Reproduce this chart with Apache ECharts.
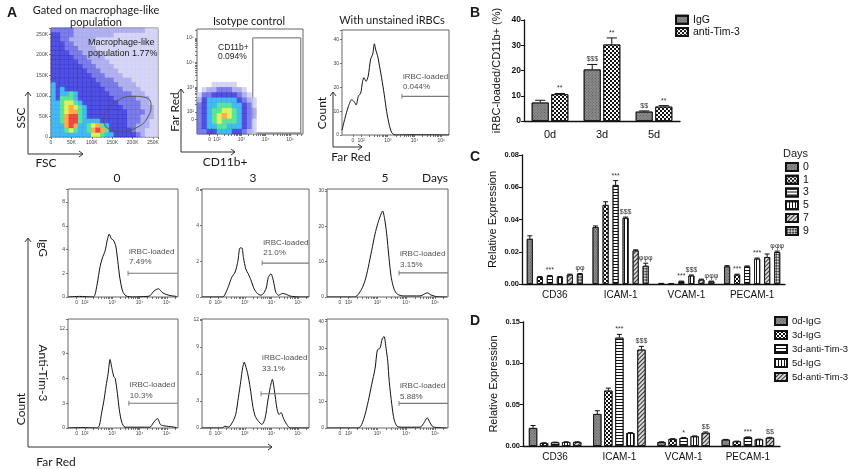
<!DOCTYPE html>
<html>
<head>
<meta charset="utf-8">
</head>
<body style="margin: 0">
<div id="container" style="width: 856px; height: 469px"></div>
<script src="https://cdn.jsdelivr.net/npm/echarts@6/dist/echarts.min.js"></script>
<script>
// ---------- panel A data ----------
// density levels 0-9, top row first
var fscSscLevels = [
  "333332222222222222222111",
  "443332222222221111111111",
  "443322222211111111111111",
  "444332222111111111111111",
  "444333222211111111111111",
  "444433322221111111111111",
  "444443332222111111111111",
  "444444333222211111111111",
  "444444433322221111111111",
  "444444443332222111111111",
  "444444444333222211111111",
  "444444444433332222111111",
  "544444444443333222211111",
  "545444444444333322221111",
  "545565444444433333222111",
  "546665444444443333322211",
  "556776544444444333332211",
  "556787654444444433332221",
  "556788654444444443333221",
  "556899654444444443332221",
  "556899655554444443332211",
  "555898556786544443322211",
  "555676556898644444322111",
  "555555555776554444432111"
];
var isoLevels = [
  "000111110000",
  "012233322100",
  "133444443210",
  "245555554321",
  "345566655431",
  "345667765432",
  "345678765432",
  "345676665431",
  "345566555431",
  "334455544321"
];
var densityColors = ['', '#cbcbf4', '#9d9dec', '#5c5ce4', '#2626d8', '#1aa6f0', '#36dc86', '#d6ee36', '#ff9a22', '#ec1c1c'];

// macrophage gate (FSC K, SSC K) and CD11b+ gate (log units)
var fscGate = [[128, 40], [138, 66], [162, 88], [200, 99], [232, 96], [245, 78], [238, 50], [212, 24], [170, 14], [138, 22], [128, 40]];
var isoGate = [[3.47, 1.15], [5.44, 5.0]];

var flowTickPos = [1.7, 2, 3, 4, 5];
var flowTickLabels = ['0', '10²', '10³', '10⁴', '10⁵'];

// histograms: [Far Red (log units), count]
var unstained = [[1.29, 2], [1.40, 7], [1.53, 12], [1.65, 14.8], [1.74, 14], [1.82, 12.6], [1.90, 16.2], [1.99, 17.6], [2.06, 22.5], [2.11, 24], [2.19, 22.5], [2.27, 24.7], [2.36, 31.8], [2.44, 33.9], [2.50, 38.2], [2.56, 35.3], [2.62, 33.2], [2.68, 29.7], [2.77, 24], [2.87, 16.9], [2.96, 9.8], [3.06, 4.1], [3.15, 1], [3.27, 0], [4.0, 0.1], [5.29, 0]];
var day0IgG = [[1.38, 0], [1.8, 0.05], [2.3, 0], [2.37, 0.2], [2.45, 1.1], [2.55, 2.5], [2.64, 3.3], [2.74, 3.9], [2.82, 4.8], [2.89, 5.3], [2.97, 4.9], [3.04, 4.8], [3.13, 4.3], [3.20, 3.1], [3.28, 1.6], [3.38, 0.5], [3.50, 0.1], [3.76, 0], [4.27, 0.05], [4.38, 0.1], [4.53, 0.5], [4.69, 0.7], [4.85, 0.35], [5.0, 0.2], [5.18, 0.1], [5.36, 0.05]];
var day0Anti = [[1.38, 0], [1.9, 0.05], [2.43, 0], [2.53, 0.3], [2.61, 1.8], [2.70, 3.4], [2.77, 5], [2.85, 6.6], [2.92, 8.3], [2.99, 7.2], [3.06, 6.2], [3.11, 6.0], [3.19, 4.2], [3.26, 2.2], [3.35, 0.7], [3.47, 0.1], [4.38, 0.1], [4.50, 0.6], [4.66, 1.15], [4.77, 0.4], [4.93, 0.25], [5.18, 0.15], [5.36, 0.05]];
var day3IgG = [[1.4, 0], [2.18, 0], [2.26, 0.15], [2.39, 0.6], [2.51, 1.1], [2.64, 1.4], [2.74, 2.0], [2.82, 2.75], [2.89, 2.75], [2.95, 2.2], [3.04, 1.55], [3.13, 1.3], [3.24, 0.9], [3.35, 0.45], [3.47, 0.2], [3.60, 0.1], [3.70, 0.2], [3.80, 0.5], [3.88, 1.1], [3.98, 1.3], [4.07, 0.9], [4.16, 0.25], [4.26, 0.1], [4.42, 0.2], [4.55, 0.15], [4.70, 0.05], [5.07, 0], [5.4, 0]];
var day3Anti = [[1.4, 0], [2.14, 0], [2.26, 0.2], [2.39, 0.1], [2.55, 0.7], [2.66, 1.5], [2.76, 3.4], [2.85, 5.2], [2.92, 6.7], [2.98, 7.3], [3.05, 6.7], [3.11, 6.0], [3.20, 4.5], [3.30, 2.4], [3.39, 1.3], [3.51, 0.75], [3.64, 0.4], [3.76, 1.1], [3.86, 3.0], [3.95, 4.5], [4.03, 5.4], [4.11, 4.1], [4.20, 2.2], [4.28, 1.5], [4.36, 1.7], [4.44, 1.1], [4.57, 0.4], [4.70, 0], [5.4, 0]];
var day5IgG = [[1.25, 0], [2.22, 0], [2.34, 0.8], [2.45, 2.2], [2.57, 4.6], [2.68, 8.3], [2.80, 13.1], [2.92, 17.9], [3.01, 20.7], [3.11, 23.1], [3.18, 24.3], [3.25, 22.1], [3.32, 17.9], [3.40, 11.2], [3.48, 5.5], [3.58, 2.2], [3.69, 0.8], [3.90, 0.3], [4.48, 0.3], [4.62, 0.8], [4.73, 1.2], [4.85, 0.6], [5.06, 0.1], [5.41, 0]];
var day5Anti = [[1.25, 0], [2.34, 0], [2.45, 1.2], [2.57, 5], [2.68, 10], [2.80, 16.3], [2.92, 22.5], [3.00, 29.4], [3.09, 30], [3.17, 33.7], [3.23, 34.4], [3.30, 30], [3.36, 25], [3.41, 17.5], [3.50, 8.8], [3.58, 3.1], [3.69, 0.6], [3.90, 0.3], [4.48, 0.3], [4.59, 1.5], [4.73, 3.8], [4.83, 1.9], [4.94, 0.4], [5.41, 0]];

var gateStart = [3.53, 3.58, 3.61, 3.65, 3.61, 3.75, 3.75];
var gateLevel = [16.2, 2, 3, 1.9, 3.8, 6.8, 9.25];
var gatePct = ['0.044%', '7.49%', '10.3%', '21.0%', '33.1%', '3.15%', '5.88%'];

// ---------- panel B ----------
var bDays = ['0d', '3d', '5d'];
var bIgG = [7.3, 20.4, 3.7];
var bIgGErr = [0.9, 2.0, 0.3];
var bIgGMarks = ['', '$$$', '$$'];
var bAnti = [10.6, 30.3, 5.7];
var bAntiErr = [0.3, 2.6, 0.4];
var bAntiMarks = ['**', '**', '**'];

// ---------- panels C and D ----------
var genes = ['CD36', 'ICAM-1', 'VCAM-1', 'PECAM-1'];
var cDays = ['0', '1', '3', '5', '7', '9'];
var cValues = [
  [0.028, 0.0353, 0.0006, 0.0109],
  [0.0043, 0.049, 0.0004, 0.0058],
  [0.005, 0.0614, 0.0016, 0.0109],
  [0.0043, 0.041, 0.0052, 0.0157],
  [0.0058, 0.0208, 0.0027, 0.0167],
  [0.0062, 0.0113, 0.0016, 0.0198]
];
var cErrors = [
  [0.0019, 0.0007, 0, 0.0005],
  [0.0003, 0.002, 0, 0.0003],
  [0.0003, 0.0027, 0.0002, 0.0003],
  [0.0003, 0.0005, 0.0004, 0.0004],
  [0.0003, 0.0004, 0.0003, 0.0019],
  [0.0003, 0.0016, 0.0002, 0.0006]
];
var cMarks = [
  ['', '', '', ''],
  ['', '', '', '***'],
  ['***', '***', '***', ''],
  ['', '$$$', '$$$', '***'],
  ['', '', '', ''],
  ['φφ', 'φφφ', 'φφφ', 'φφφ']
];
var dGroups = ['0d-IgG', '3d-IgG', '3d-anti-Tim-3', '5d-IgG', '5d-anti-Tim-3'];
var dValues = [
  [0.0218, 0.0387, 0.0048, 0.0077],
  [0.0036, 0.067, 0.0085, 0.0056],
  [0.0044, 0.131, 0.0097, 0.0105],
  [0.0048, 0.0157, 0.0117, 0.008],
  [0.0048, 0.1165, 0.016, 0.01]
];
var dErrors = [
  [0.003, 0.004, 0.0003, 0.0003],
  [0.0003, 0.003, 0.0004, 0.0003],
  [0.0003, 0.004, 0.0005, 0.0005],
  [0.0003, 0.0005, 0.0005, 0.0003],
  [0.0003, 0.004, 0.001, 0.0005]
];
var dMarks = [
  ['', '', '', ''],
  ['', '', '', ''],
  ['', '***', '*', '***'],
  ['', '', '', ''],
  ['', '$$$', '$$', '$$']
];

// ---------- layout & styles ----------
var font = 'Liberation Sans';
var chart = echarts.init(document.getElementById('container'));
var grids = [], xAxes = [], yAxes = [], series = [];

var patterns = {
  gray: { color: '#8e8e8e', decal: { symbol: 'rect', dashArrayX: [1, 1], dashArrayY: [1, 1], rotation: Math.PI / 4, color: '#5a5a5a' } },
  checker: { color: '#fff', decal: { symbol: 'rect', dashArrayX: [[2, 2], [0, 2, 2, 0]], dashArrayY: [2, 0], color: '#111' } },
  hstripe: { color: '#fff', decal: { symbol: 'rect', dashArrayX: [1, 0], dashArrayY: [1, 2], color: '#111' } },
  vstripe: { color: '#fff', decal: { symbol: 'rect', dashArrayX: [1, 2], dashArrayY: [1, 0], color: '#111' } },
  diag: { color: '#d8d8d8', decal: { symbol: 'rect', dashArrayX: [1, 0], dashArrayY: [1, 2], rotation: -Math.PI / 4, color: '#333' } },
  cross: { color: '#cfcfcf', decal: { symbol: 'rect', dashArrayX: [[2, 2], [0, 2, 2, 0]], dashArrayY: [2, 0], rotation: Math.PI / 4, color: '#444' } }
};

function addGrid(box, framed) {
  grids.push({
    left: box[0], top: box[1], width: box[2], height: box[3],
    show: !!framed, borderColor: '#666', borderWidth: 1, backgroundColor: 'rgba(0,0,0,0)',
    outerBoundsMode: 'none'
  });
  return grids.length - 1;
}

function flowTicks(lo, hi) {
  var t = [];
  for (var d = 2; d <= 5; d++) {
    for (var k = 1; k <= 9; k++) {
      var v = d + Math.log10(k);
      if (v >= lo && v <= hi) t.push(v);
    }
  }
  t.push(1.7);
  return t;
}

function flowAxis(gi, lo, hi) {
  return {
    gridIndex: gi, type: 'value', min: lo, max: hi,
    axisLine: { show: false }, splitLine: { show: false },
    axisTick: { show: true, customValues: flowTicks(lo, hi), length: 2, lineStyle: { color: '#555', width: 0.8 } },
    axisLabel: {
      customValues: flowTickPos, fontSize: 5, color: '#444', margin: 3, fontFamily: font,
      formatter: function (v) {
        for (var i = 0; i < flowTickPos.length; i++) if (Math.abs(flowTickPos[i] - v) < 1e-6) return flowTickLabels[i];
        return '';
      }
    }
  };
}

function countAxis(gi, max, step) {
  return {
    gridIndex: gi, type: 'value', min: 0, max: max, interval: step,
    axisLine: { show: false }, splitLine: { show: false },
    axisTick: { show: true, length: 2, lineStyle: { color: '#555', width: 0.8 } },
    axisLabel: {
      fontSize: 5, color: '#444', margin: 3, fontFamily: font,
      formatter: function (v) { return Math.abs(v / step - Math.round(v / step)) < 1e-6 ? String(v) : ''; }
    }
  };
}

function kAxis(gi, max) {
  return {
    gridIndex: gi, type: 'value', min: 0, max: max, interval: 50000,
    axisLine: { show: false }, splitLine: { show: false },
    axisTick: { show: true, length: 2, lineStyle: { color: '#555', width: 0.8 } },
    minorTick: { show: true, splitNumber: 5, length: 1, lineStyle: { color: '#777', width: 0.6 } },
    axisLabel: {
      fontSize: 5, color: '#444', margin: 3, fontFamily: font,
      formatter: function (v) { return v % 50000 ? '' : (v === 0 ? '0' : v / 1000 + 'K'); }
    }
  };
}

function densityData(levels, x0, yTop, cw, ch) {
  var out = [];
  levels.forEach(function (row, r) {
    for (var c = 0; c < row.length; c++) {
      var lv = +row[c];
      if (lv > 0) out.push([x0 + (c + 0.5) * cw, yTop - (r + 0.5) * ch, lv]);
    }
  });
  out.sort(function (a, b) { return a[2] - b[2]; });
  return out;
}

function densitySeries(gi, data, size) {
  return {
    type: 'scatter', xAxisIndex: gi, yAxisIndex: gi, data: data, symbol: 'rect', symbolSize: size,
    silent: true, itemStyle: { color: function (p) { return densityColors[p.value[2]]; } }
  };
}

// plot 1: FSC / SSC
var g1 = addGrid([51, 28, 107, 109], true);
xAxes.push(kAxis(g1, 262000));
yAxes.push(kAxis(g1, 265000));
series.push(densitySeries(g1, densityData(fscSscLevels, 0, 265000, 262000 / 24, 265000 / 24), [4.9, 5]));
series.push({
  type: 'line', xAxisIndex: g1, yAxisIndex: g1, symbol: 'none', smooth: 0.5, silent: true,
  data: fscGate.map(function (p) { return [p[0] * 1000, p[1] * 1000]; }),
  lineStyle: { color: '#555', width: 1 }
});

// plot 2: isotype control
var g2 = addGrid([197, 29, 106, 105], true);
xAxes.push(flowAxis(g2, 1.18, 5.53));
yAxes.push(flowAxis(g2, 1.11, 5.36));
var isoSeries = densitySeries(g2, densityData(isoLevels, 1.18, 3.21, 0.2033, 0.21), [5.4, 5.6]);
isoSeries.markArea = {
  silent: true,
  itemStyle: { color: 'rgba(0,0,0,0)', borderColor: '#666', borderWidth: 1 },
  data: [[{ coord: isoGate[0] }, { coord: isoGate[1] }]]
};
series.push(isoSeries);

// histograms
var histLayout = [
  { data: unstained, box: [342, 30, 107, 105], x: [1.29, 5.29], yMax: 44, step: 10, gap: 1.5 },
  { data: day0IgG, box: [68, 189, 110, 108], x: [1.38, 5.41], yMax: 9.1, step: 2, gap: 3.5 },
  { data: day0Anti, box: [68, 319, 110, 109], x: [1.38, 5.41], yMax: 13.2, step: 3, gap: 0 },
  { data: day3IgG, box: [202, 189, 107, 108], x: [1.4, 5.4], yMax: 6.05, step: 2, gap: 2.5 },
  { data: day3Anti, box: [202, 319, 107, 109], x: [1.4, 5.4], yMax: 12.1, step: 3, gap: 17.5 },
  { data: day5IgG, box: [327, 189, 121, 108], x: [1.25, 5.45], yMax: 30.5, step: 10, gap: 0.5 },
  { data: day5Anti, box: [327, 319, 121, 109], x: [1.25, 5.45], yMax: 41, step: 10, gap: -1 }
];
histLayout.forEach(function (h, i) {
  var gi = addGrid(h.box, true);
  xAxes.push(flowAxis(gi, h.x[0], h.x[1]));
  yAxes.push(countAxis(gi, h.yMax, h.step));
  series.push({
    type: 'line', xAxisIndex: gi, yAxisIndex: gi, data: h.data, symbol: 'none', smooth: 0.25,
    silent: true, lineStyle: { color: '#111', width: 1 }
  });
  series.push({
    type: 'line', xAxisIndex: gi, yAxisIndex: gi, symbol: 'none', silent: true,
    data: [[gateStart[i], gateLevel[i]], [h.x[1], gateLevel[i]]],
    lineStyle: { color: '#7a7a7a', width: 1.2 }
  });
  series.push({
    type: 'scatter', xAxisIndex: gi, yAxisIndex: gi, symbol: 'rect', symbolSize: [1.2, 5], silent: true,
    itemStyle: { color: '#7a7a7a' },
    data: [[gateStart[i], gateLevel[i]]],
    label: {
      show: true, position: 'top', distance: h.gap, align: 'left', offset: [1, 0],
      formatter: 'iRBC-loaded\n' + gatePct[i], fontSize: 8, lineHeight: 10.5, color: '#222', fontFamily: font
    }
  });
});

// ---------- bar panels ----------
function catAxis(gi, cats, fs, margin) {
  return {
    gridIndex: gi, type: 'category', data: cats,
    axisLine: { lineStyle: { color: '#111', width: 1.3 } },
    axisTick: { alignWithLabel: true, length: 3, lineStyle: { color: '#111' } },
    axisLabel: { fontSize: fs, color: '#111', margin: margin, fontFamily: font },
    splitLine: { show: false }
  };
}
function valAxis(gi, max, step, digits, fs, name, nameGap) {
  return {
    gridIndex: gi, type: 'value', min: 0, max: max, interval: step,
    axisLine: { show: true, lineStyle: { color: '#111', width: 1.3 } },
    axisTick: { show: true, length: 3, lineStyle: { color: '#111' } },
    splitLine: { show: false },
    axisLabel: {
      fontSize: fs, fontWeight: 'bold', color: '#111', margin: 3, fontFamily: font,
      formatter: function (v) { return v.toFixed(digits); }
    },
    name: name, nameLocation: 'middle', nameGap: nameGap,
    nameTextStyle: { fontSize: 11, color: '#111', fontFamily: font }
  };
}

function addBars(gi, name, values, errors, marks, style, n, idx, bw, gapRatio) {
  series.push({
    type: 'bar', name: name, xAxisIndex: gi, yAxisIndex: gi, data: values,
    barWidth: bw, barGap: (gapRatio * 100) + '%', silent: true,
    itemStyle: Object.assign({ borderColor: '#111', borderWidth: 0.8 }, style)
  });
  series.push({
    type: 'custom', xAxisIndex: gi, yAxisIndex: gi, silent: true, z: 5,
    data: values.map(function (v, i) { return [i, v, errors[i]]; }),
    renderItem: function (params, api) {
      var i = api.value(0), v = api.value(1), e = api.value(2);
      var gap = bw * gapRatio, total = n * bw + (n - 1) * gap;
      var dx = -total / 2 + bw / 2 + idx * (bw + gap);
      var p0 = api.coord([i, v]), p1 = api.coord([i, v + e]);
      var x = p0[0] + dx, cw = Math.max(2.5, bw * 0.3), kids = [];
      if (e > 0) {
        kids.push({ type: 'line', shape: { x1: x, y1: p0[1], x2: x, y2: p1[1] }, style: { stroke: '#111', lineWidth: 1 } });
        kids.push({ type: 'line', shape: { x1: x - cw, y1: p1[1], x2: x + cw, y2: p1[1] }, style: { stroke: '#111', lineWidth: 1 } });
      }
      var m = marks[params.dataIndex];
      if (m) {
        kids.push({ type: 'text', x: x, y: p1[1] - 1.5, style: { text: m, textAlign: 'center', textVerticalAlign: 'bottom', font: '7px ' + font, fill: '#333' } });
      }
      return { type: 'group', children: kids };
    }
  });
}

// B
var gB = addGrid([524, 20, 156, 101], false);
xAxes.push(catAxis(gB, bDays, 11, 8));
yAxes.push(valAxis(gB, 40, 10, 0, 8.5, 'iRBC-loaded/CD11b+ (%)', 22));
addBars(gB, 'IgG', bIgG, bIgGErr, bIgGMarks, patterns.gray, 2, 0, 17, 0.15);
addBars(gB, 'anti-Tim-3', bAnti, bAntiErr, bAntiMarks, patterns.checker, 2, 1, 17, 0.15);

// C
var gC = addGrid([522, 155, 263, 129], false);
xAxes.push(catAxis(gC, genes, 10, 6));
yAxes.push(valAxis(gC, 0.08, 0.02, 2, 7.5, 'Relative Expression', 24));
var cStyles = ['gray', 'checker', 'hstripe', 'vstripe', 'diag', 'cross'];
cDays.forEach(function (d, i) {
  addBars(gC, d, cValues[i], cErrors[i], cMarks[i], patterns[cStyles[i]], cDays.length, i, 6, 0.67);
});

// D
var gD = addGrid([523, 322, 257, 124], false);
xAxes.push(catAxis(gD, genes, 10, 6));
yAxes.push(valAxis(gD, 0.15, 0.05, 2, 7.5, 'Relative Expression', 24));
var dStyles = ['gray', 'checker', 'hstripe', 'vstripe', 'diag'];
dGroups.forEach(function (d, i) {
  addBars(gD, d, dValues[i], dErrors[i], dMarks[i], patterns[dStyles[i]], dGroups.length, i, 8.3, 0.33);
});

// ---------- text & arrows ----------
function txt(s, x, y, f, extra) {
  return Object.assign({
    type: 'text', x: x, y: y, z: 100, silent: true,
    style: { text: s, x: 0, y: 0, font: f, fill: '#1a1a1a', textAlign: 'center', textVerticalAlign: 'middle' }
  }, extra || {});
}
function ltxt(s, x, y, f) {
  var t = txt(s, x, y, f);
  t.style.textAlign = 'left';
  return t;
}
function arrow(x0, y0, x1, y1) {
  var head = x0 === x1 ? [[x1 - 3, y1 + 4], [x1, y1], [x1 + 3, y1 + 4]] : [[x1 - 4, y1 - 3], [x1, y1], [x1 - 4, y1 + 3]];
  return [
    { type: 'polyline', z: 100, silent: true, shape: { points: [[x0, y0], [x1, y1]] }, style: { stroke: '#333', lineWidth: 1, fill: null } },
    { type: 'polyline', z: 100, silent: true, shape: { points: head }, style: { stroke: '#333', lineWidth: 1, fill: null } }
  ];
}

var lato12 = '12px Lato', lato11 = '11px Lato';
var graphics = [
  ltxt('A', 7, 13, 'bold 14px ' + font),
  ltxt('B', 470, 13, 'bold 14px ' + font),
  ltxt('C', 470, 157, 'bold 14px ' + font),
  ltxt('D', 470, 321, 'bold 14px ' + font),
  txt('Gated on macrophage-like', 96, 10, lato11),
  txt('population', 96, 22, lato11),
  txt('Isotype control', 249, 21, lato11),
  txt('With unstained iRBCs', 392, 20, lato11),
  ltxt('Macrophage-like', 88, 43, '9px ' + font),
  ltxt('population 1.77%', 88, 54, '9px ' + font),
  ltxt('CD11b+', 218, 48, '8.5px ' + font),
  ltxt('0.094%', 218, 57, '8.5px ' + font),
  txt('SSC', 21, 118, lato12, { rotation: Math.PI / 2 }),
  txt('FSC', 46, 163, lato12),
  txt('Far Red', 175, 112, lato12, { rotation: Math.PI / 2 }),
  txt('CD11b+', 225, 162, lato12),
  txt('Count', 322, 113, lato12, { rotation: Math.PI / 2 }),
  txt('Far Red', 351, 157, lato12),
  txt('0', 117, 178, lato12),
  txt('3', 253, 178, lato12),
  txt('5', 385, 178, lato12),
  txt('Days', 435, 178, lato12),
  txt('IgG', 43, 248, lato12, { rotation: -Math.PI / 2 }),
  txt('Anti-Tim-3', 43, 373, lato12, { rotation: -Math.PI / 2 }),
  txt('Count', 21, 409, lato12, { rotation: Math.PI / 2 }),
  txt('Far Red', 56, 462, lato12),
  ltxt('Days', 783, 154, '11px ' + font)
];
graphics = graphics
  .concat(arrow(28, 154, 28, 92)).concat(arrow(28, 154, 83, 154))
  .concat(arrow(181, 152, 181, 89)).concat(arrow(181, 152, 235, 152))
  .concat(arrow(333, 147, 333, 92)).concat(arrow(333, 147, 362, 147))
  .concat(arrow(28, 447, 28, 238)).concat(arrow(28, 447, 272, 447));

function legendCfg(names, left, top, fs, lh) {
  return {
    data: names, left: left, top: top, orient: 'vertical', padding: 0, icon: 'rect',
    itemWidth: 12, itemHeight: 8, itemGap: 0, selectedMode: false,
    textStyle: { fontSize: fs, lineHeight: lh, color: '#111', fontFamily: font }
  };
}

var option = {
  animation: false,
  backgroundColor: '#fff',
  textStyle: { fontFamily: font },
  grid: grids,
  xAxis: xAxes,
  yAxis: yAxes,
  legend: [
    legendCfg(['IgG', 'anti-Tim-3'], 675, 13.5, 10.5, 12.4),
    legendCfg(cDays, 785, 160.5, 10.5, 12.8),
    legendCfg(dGroups, 774, 314, 9.5, 14)
  ],
  graphic: graphics,
  series: series
};
chart.setOption(option);
</script>
</body>
</html>
